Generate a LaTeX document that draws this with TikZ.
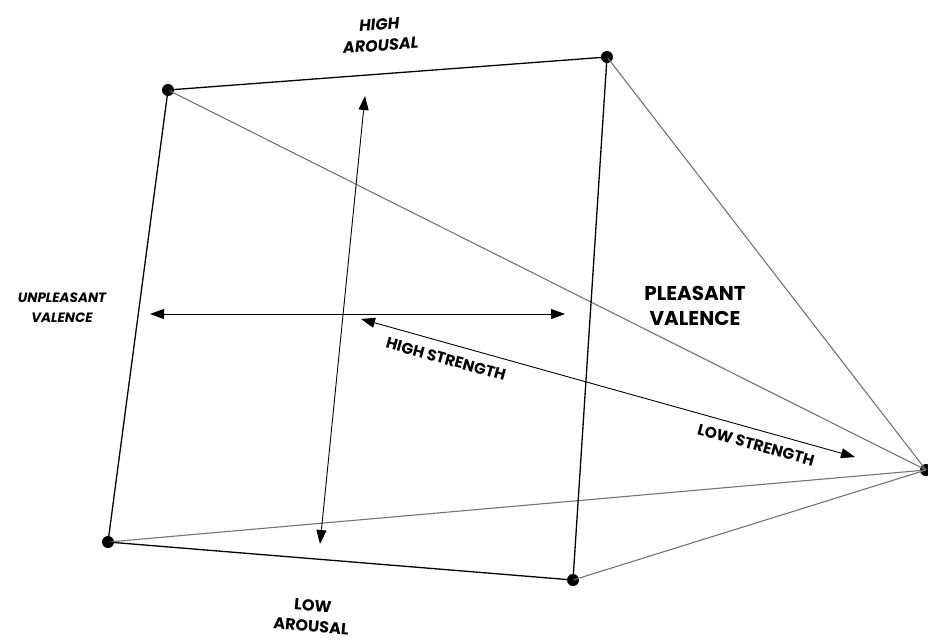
\documentclass[tikz,border=0pt]{standalone}
\usepackage{fontspec}
\setmainfont{Poppins}
\usetikzlibrary{arrows.meta}
\begin{document}
\begin{tikzpicture}[x=1pt,y=-1pt,
  edge/.style={black,line width=1.3pt},
  thin/.style={black!55,line width=1.1pt},
  arr/.style={black,line width=0.9pt,{Triangle[length=14pt,width=10pt]}-{Triangle[length=14pt,width=10pt]}},
  vtx/.style={circle,fill=black,inner sep=0pt,minimum size=12pt},
  lbl/.style={font=\bfseries,align=center,inner sep=0pt}]
\useasboundingbox (0,0) rectangle (928,641);
\node[vtx] (a) at (168,90) {};
\node[vtx] (b) at (607,57) {};
\node[vtx] (c) at (926,470) {};
\node[vtx] (d) at (573,580) {};
\node[vtx] (e) at (108,542) {};
\draw[thin] (b.center) -- (c.center);
\draw[thin] (a.center) -- (c.center);
\draw[thin] (e.center) -- (c.center);
\draw[thin] (d.center) -- (c.center);
\draw[edge] (a.center) -- (b.center);
\draw[edge] (a.center) -- (e.center);
\draw[edge] (e.center) -- (d.center);
\draw[edge] (b.center) -- (d.center);
\coordinate (vt) at (365,96);
\coordinate (vb) at (320,544);
\coordinate (hl) at (150,314);
\coordinate (hr) at (565,314);
\coordinate (dt) at (361,319);
\coordinate (db) at (855,457);
\draw[arr] (vt) -- (vb);
\draw[arr] (hl) -- (hr);
\draw[arr] (dt) -- (db);
\node[lbl,font=\fontsize{16}{21}\selectfont\bfseries\itshape,rotate=4] (ha) at (380,35) {HIGH\\AROUSAL};
\node[lbl,font=\fontsize{16}{21}\selectfont\bfseries,rotate=-5] (la) at (312,616) {LOW\\AROUSAL};
\node[lbl,font=\fontsize{13.5}{20}\selectfont\bfseries\itshape] (uv) at (62,308) {UNPLEASANT\\VALENCE};
\node[lbl,font=\fontsize{20}{25}\selectfont\bfseries] (pv) at (695,306) {PLEASANT\\VALENCE};
\node[lbl,font=\fontsize{15.5}{18}\selectfont\bfseries,rotate=-15.5] (hs) at (446,359) {HIGH STRENGTH};
\node[lbl,font=\fontsize{15.5}{18}\selectfont\bfseries,rotate=-15.5] (ls) at (756,445) {LOW STRENGTH};
\end{tikzpicture}
\end{document}
